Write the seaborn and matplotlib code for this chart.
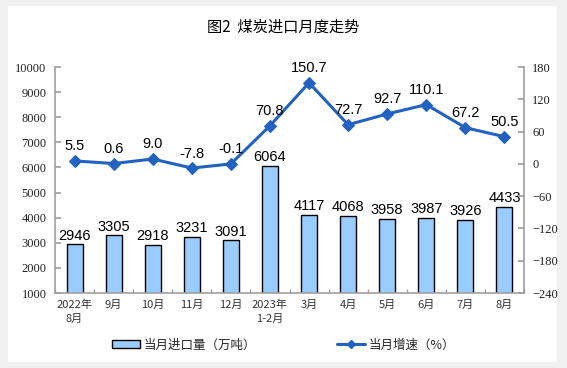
import matplotlib
matplotlib.use("Agg")
import matplotlib.pyplot as plt
import matplotlib.patches as mpatches
from matplotlib.lines import Line2D
import seaborn as sns
import pandas as pd

months = ["2022年\n8月", "9月", "10月", "11月", "12月", "2023年\n1-2月",
          "3月", "4月", "5月", "6月", "7月", "8月"]
imports = [2946, 3305, 2918, 3231, 3091, 6064, 4117, 4068, 3958, 3987, 3926, 4433]
growth = [5.5, 0.6, 9.0, -7.8, -0.1, 70.8, 150.7, 72.7, 92.7, 110.1, 67.2, 50.5]

df = pd.DataFrame({"month": months, "imports": imports, "growth": growth, "idx": range(len(months))})

sns.set_theme(style="white")
plt.rcParams["font.family"] = ["Noto Sans CJK SC", "DejaVu Sans"]

fig = plt.figure(figsize=(5.67, 3.68), dpi=100)
fig.patch.set_facecolor("#f0f0f0")
# white inner panel behind everything
fig.patches.append(mpatches.Rectangle((8 / 567, 6 / 368), 549 / 567, 356 / 368,
                                      transform=fig.transFigure, facecolor="white",
                                      edgecolor="none", zorder=-10))

ax = fig.add_axes([55 / 567, 1 - 293 / 368, 469 / 567, 226 / 368])
ax.set_facecolor("none")

bar_color = "#99ccff"
line_color = "#2262c0"
spine_color = "#a0a0a0"

sns.barplot(data=df, x="idx", y="imports", color=bar_color, width=0.41,
            edgecolor="black", linewidth=1.0, saturation=1, ax=ax)
ax.set_ylim(1000, 10000)
ax.set_yticks(range(1000, 10001, 1000))
ax.set_xlim(-0.5, 11.5)
ax.set_xticks(range(len(months)))
ax.set_xticklabels(months, fontsize=8, color="#333333", linespacing=1.4)
ax.set_xlabel("")
ax.set_ylabel("")
for lab in ax.get_yticklabels():
    lab.set_fontfamily("Liberation Serif")
    lab.set_fontsize(9)
    lab.set_color("#222222")

for i, v in enumerate(imports):
    ax.text(i, v + 60, str(v), ha="center", va="bottom", fontsize=10.5,
            fontfamily="Liberation Sans", color="black")

ax2 = ax.twinx()
sns.lineplot(data=df, x="idx", y="growth", color=line_color, linewidth=2.2,
             marker="D", markersize=6, markeredgecolor=line_color, ax=ax2)
ax2.set_ylim(-240, 180)
ax2.set_yticks(range(-240, 181, 60))
ax2.set_xlim(-0.5, 11.5)
ax2.set_ylabel("")
ax2.set_xlabel("")
for lab in ax2.get_yticklabels():
    lab.set_fontfamily("Liberation Serif")
    lab.set_fontsize(9)
    lab.set_color("#222222")

for i, v in enumerate(growth):
    ax2.text(i, v + 14, f"{v:.1f}", ha="center", va="bottom", fontsize=10.5,
             fontfamily="Liberation Sans", color="black")

for a in (ax, ax2):
    for s in a.spines.values():
        s.set_color(spine_color)
        s.set_linewidth(1.2)
    a.spines["top"].set_visible(False)

ax.spines["right"].set_visible(False)
ax2.spines["left"].set_visible(False)
ax2.spines["bottom"].set_visible(False)

ax.tick_params(axis="y", direction="in", length=4, color=spine_color, left=True, pad=6)
ax2.tick_params(axis="y", direction="in", length=4, color=spine_color, right=True, pad=6)
ax.tick_params(axis="x", length=0, pad=5)
ax.set_xticks([i + 0.5 for i in range(-1, 12)], minor=True)
ax.tick_params(axis="x", which="minor", direction="in", length=3, color=spine_color, bottom=True)

fig.text(0.5, 1 - 27 / 368, "图2  煤炭进口月度走势", ha="center", va="center",
         fontsize=11, color="black")

handles = [mpatches.Patch(facecolor=bar_color, edgecolor="black", linewidth=1.0),
           Line2D([0], [0], color=line_color, linewidth=2.2, marker="D", markersize=4.5)]
fig.legend(handles, ["当月进口量（万吨）", "当月增速（%）"], loc="center",
           bbox_to_anchor=(0.5, 1 - 345 / 368), ncol=2, frameon=False,
           fontsize=9, columnspacing=6.5, handlelength=2.2, handleheight=0.6,
           handletextpad=0.3)

fig.savefig("out.png", dpi=100, facecolor=fig.get_facecolor())
